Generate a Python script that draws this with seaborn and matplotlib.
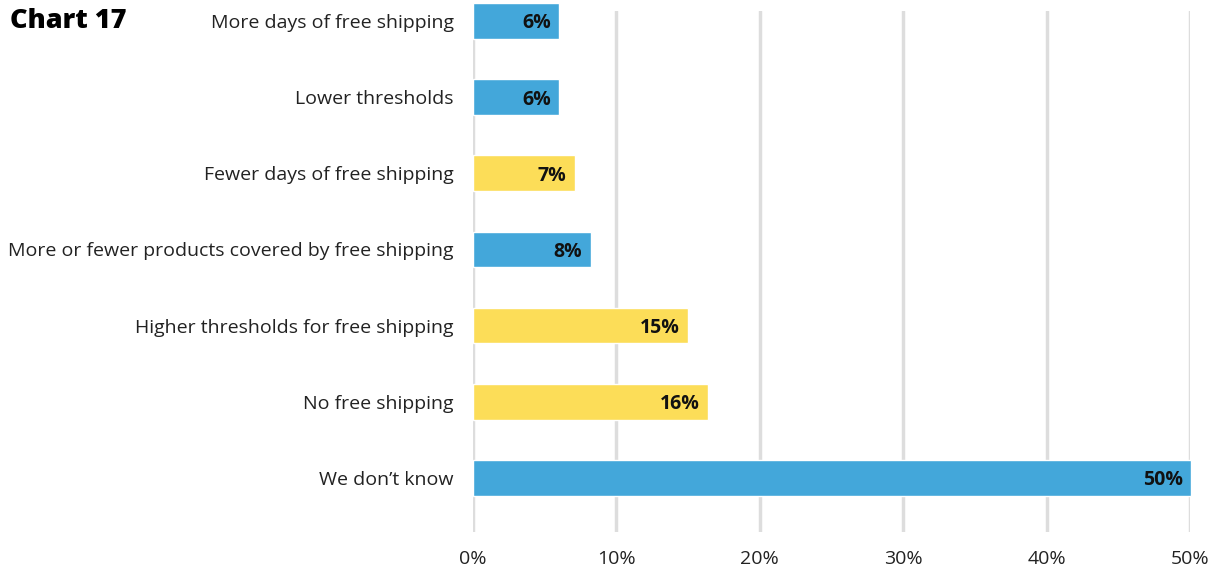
import matplotlib
matplotlib.use("Agg")
import matplotlib.pyplot as plt
import seaborn as sns
import pandas as pd

categories = [
    "More days of free shipping",
    "Lower thresholds",
    "Fewer days of free shipping",
    "More or fewer products covered by free shipping",
    "Higher thresholds for free shipping",
    "No free shipping",
    "We don\u2019t know",
]
values = [6.0, 6.0, 7.1, 8.2, 15.0, 16.4, 50.1]
groups = ["blue", "blue", "yellow", "blue", "yellow", "yellow", "blue"]
xticks = [0, 10, 20, 30, 40, 50]
xtick_labels = ["0%", "10%", "20%", "30%", "40%", "50%"]

palette = {"blue": "#43A7DA", "yellow": "#FCDD58"}

sns.set_theme(style="white")
plt.rcParams["font.family"] = ["Open Sans", "DejaVu Sans"]

df = pd.DataFrame({"category": categories, "value": values, "group": groups})

fig = plt.figure(figsize=(12.13, 5.70), dpi=100)
ax = fig.add_axes([473 / 1213, 38 / 570, (1190 - 473) / 1213, (532 - 11) / 570])

sns.barplot(data=df, x="value", y="category", hue="group", palette=palette,
            dodge=False, width=0.47, legend=False, ax=ax, saturation=1)

for p in ax.patches:
    p.set_clip_on(False)

ax.set_xlim(0, 50)
ax.set_ylim(6.71, -0.13)
ax.set_xticks(xticks)
ax.set_xticklabels(xtick_labels, fontsize=14, color="#222222")
ax.tick_params(axis="x", length=0, pad=13)
ax.tick_params(axis="y", length=0, pad=14, labelsize=14, labelcolor="#222222")
ax.set_xlabel("")
ax.set_ylabel("")
ax.grid(axis="x", color="#DDDDDD", linewidth=2.5)
ax.set_axisbelow(True)
for s in ax.spines.values():
    s.set_visible(False)

for i, v in enumerate(values):
    ax.annotate(f"{v:.0f}%", xy=(v, i), xytext=(-6, 0), textcoords="offset points",
                ha="right", va="center_baseline", fontsize=14, fontweight="bold",
                color="#111111", annotation_clip=False)

fig.text(10 / 1213, 1 - 21 / 570, "Chart 17", fontsize=19.5, fontweight="heavy",
         ha="left", va="center", color="#000000")

fig.savefig("out.png", dpi=100)
